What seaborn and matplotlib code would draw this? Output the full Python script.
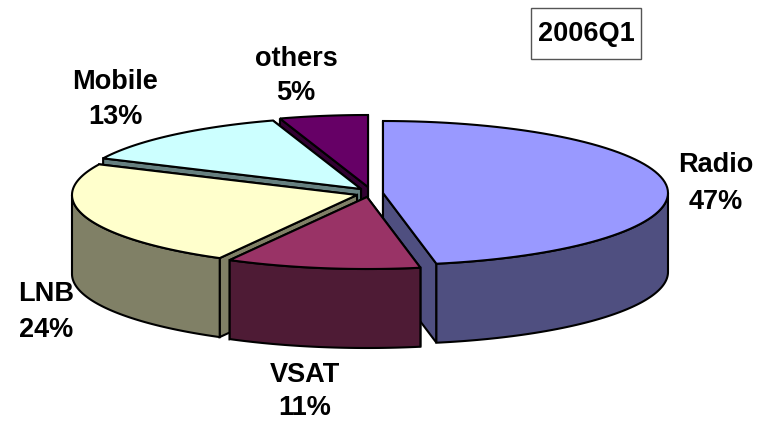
import numpy as np
import matplotlib
matplotlib.use('Agg')
import matplotlib.pyplot as plt
from matplotlib.patches import Polygon, Rectangle
import seaborn as sns

# values, clockwise from 12 o'clock
names = ['Radio', 'VSAT', 'LNB', 'Mobile', 'others']
shares = [47, 11, 24, 13, 5]

top_colors = ['#9999FF', '#993366', '#FFFFCC', '#CCFFFF', '#660066']
side_colors = ['#4F4F80', '#4E1B35', '#808066', '#668080', '#330033']

# slice centres after the explode, in pixels
centres = {'Radio': (383, 193), 'VSAT': (367, 197), 'LNB': (357, 195),
           'Mobile': (361, 189), 'others': (368, 187)}
# x centre and baseline of the name and of the percent
label_pos = {'Radio': (716, 172, 209), 'VSAT': (305, 382, 415), 'LNB': (46, 301, 337),
             'Mobile': (115, 89, 124), 'others': (296, 66, 100)}
draw_order = ['others', 'Mobile', 'Radio', 'LNB', 'VSAT']

RX, RY = 285, 72
DEPTH = 79

sns.set_theme(style='white')
plt.rcParams['font.family'] = ['Liberation Sans', 'DejaVu Sans']

fig = plt.figure(figsize=(7.61, 4.21), dpi=100)
ax = fig.add_axes([0, 0, 1, 1])
ax.set_xlim(0, 761)
ax.set_ylim(421, 0)
ax.axis('off')


def rim(c, a0, a1):
    t = np.radians(np.linspace(a0, a1, 80))
    return np.column_stack([c[0] + RX * np.sin(t), c[1] - RY * np.cos(t)])


def shifted(pts):
    return pts + np.array([0, DEPTH])


edges = np.cumsum([0] + shares) * 3.6
zorder = 1
for name in draw_order:
    i = names.index(name)
    c = np.array(centres[name], dtype=float)
    a0, a1 = edges[i], edges[i + 1]
    arc = rim(c, a0, a1)

    # cut faces, the one nearer the viewer last, then outer wall, then top
    for end in sorted((arc[0], arc[-1]), key=lambda p: p[1]):
        face = np.array([c, end, end + [0, DEPTH], c + [0, DEPTH]])
        ax.add_patch(Polygon(face, closed=True, fc=side_colors[i], ec='black', lw=1.5, zorder=zorder))

    lo, hi = max(a0, 90), min(a1, 270)
    if hi > lo:
        front = rim(c, lo, hi)
        wall = np.vstack([front, shifted(front)[::-1]])
        ax.add_patch(Polygon(wall, closed=True, fc=side_colors[i], ec='black', lw=1.5, zorder=zorder))

    top = np.vstack([c, arc])
    ax.add_patch(Polygon(top, closed=True, fc=top_colors[i], ec='black', lw=1.5, zorder=zorder))
    zorder += 1

for name, share in zip(names, shares):
    x, y_name, y_share = label_pos[name]
    ax.text(x, y_name, name, ha='center', va='baseline', fontsize=19.5,
            fontweight='bold', color='black', zorder=10)
    ax.text(x, y_share, f'{share}%', ha='center', va='baseline', fontsize=19.5,
            fontweight='bold', color='black', zorder=10)

ax.add_patch(Rectangle((531, 8), 110, 51, fc='white', ec='#555555', lw=1, zorder=9))
ax.text(586, 34, '2006Q1', ha='center', va='center', fontsize=19.5,
        fontweight='bold', color='black', zorder=10)

fig.savefig('out.png', dpi=100)
